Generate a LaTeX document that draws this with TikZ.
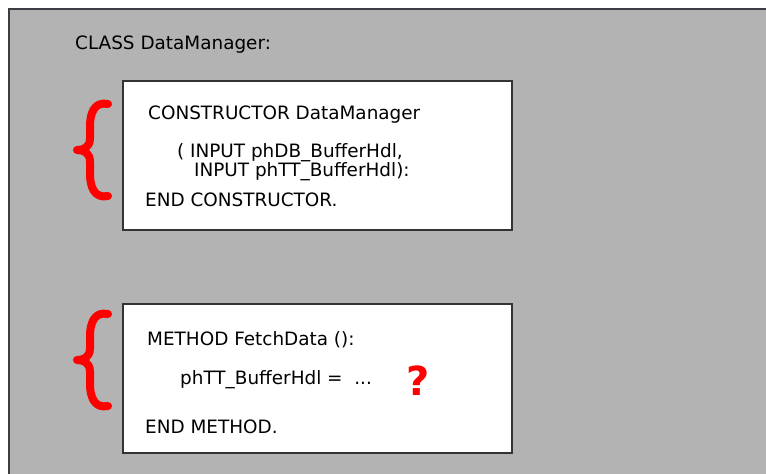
\documentclass[tikz,border=0pt]{standalone}
\usepackage{fontspec}
\setmainfont{DejaVu Sans}
\usetikzlibrary{positioning, calc}

\definecolor{panelgray}{HTML}{B3B3B3}
\definecolor{edgegray}{HTML}{3A3D44}

\begin{document}
\begin{tikzpicture}[x=1pt, y=-1pt,
        codebox/.style={draw=black!80, line width=1.6pt, fill=white, inner sep=0pt},
        codetext/.style={anchor=west, font=\fontsize{18.4}{20}\selectfont, inner sep=0pt},
        curly/.style={draw=red, line width=8pt, line cap=round, line join=round},
        huh/.style={text=red, font=\fontsize{40}{44}\selectfont\bfseries, inner sep=0pt}
    ]
        \useasboundingbox (0,0) rectangle (766,474);

        % Panel
        \filldraw[fill=panelgray, draw=edgegray, line width=1.8pt] (9,9) rectangle (800,500);
        \node[codetext] (cls) at (75,45) {CLASS DataManager:};

        % Constructor box
        \node[codebox, minimum width=389pt, minimum height=149pt] (ctorbox) at (317.5,155.5) {};
        \node[codetext] (ctor) at (148,115) {CONSTRUCTOR DataManager};
        \node[codetext] (argone) at (177,153) {( INPUT phDB\_BufferHdl,};
        \node[codetext] (argtwo) at (194,172) {INPUT phTT\_BufferHdl):};
        \node[codetext] (ctorend) at (145,200) {END CONSTRUCTOR.};

        % Method box
        \node[codebox, minimum width=389pt, minimum height=149pt] (methbox) at (317.5,378.5) {};
        \node[codetext] (meth) at (147,340) {METHOD FetchData ():};
        \node[codetext] (assign) at (180,380) {phTT\_BufferHdl =\ \ ...};
        \node[huh] (qmark) at (418,381) {?};
        \node[codetext] (methend) at (145,427) {END METHOD.};

        % Braces
        \foreach \top/\name in {104/ctorbrace, 314/methbrace} {
            \coordinate (\name) at (108,\top);
            \draw[curly] (\name) .. controls +(-14,-3) and +(0,-12) .. ++(-18,22)
                -- ++(0,12) .. controls +(0,10) and +(6,0) .. ++(-13,12)
                .. controls +(6,0) and +(0,-10) .. ++(13,12)
                -- ++(0,12) .. controls +(0,12) and +(-14,3) .. ++(18,22);
        }
    \end{tikzpicture}
\end{document}
